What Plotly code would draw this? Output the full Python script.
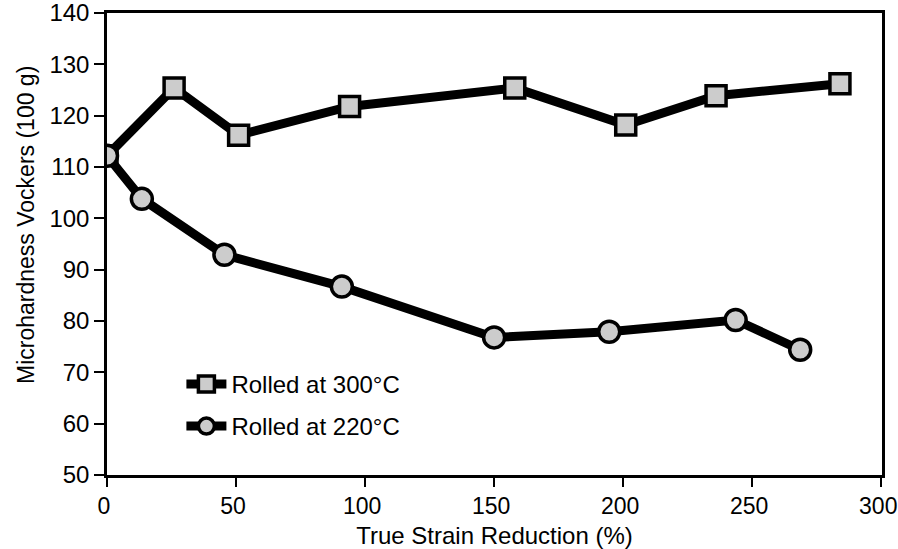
import plotly.graph_objects as go

# Rolled at 300°C (squares)
strain_300 = [0, 26, 51, 94, 158, 201, 236, 284]
hv_300 = [112.2, 125.4, 116.2, 121.8, 125.4, 118.2, 123.9, 126.2]

# Rolled at 220°C (circles)
strain_220 = [0, 13.5, 45.5, 91, 150, 194.6, 243.6, 268.6]
hv_220 = [112.2, 103.8, 92.9, 86.7, 76.8, 77.9, 80.2, 74.4]

x_ticks = [0, 50, 100, 150, 200, 250, 300]
y_ticks = [50, 60, 70, 80, 90, 100, 110, 120, 130, 140]

x_title = "True Strain Reduction (%)"
y_title = "Microhardness Vockers (100 g)"

FONT = "Liberation Sans, Arial, sans-serif"
fill = "#cccccc"

fig = go.Figure()
fig.add_trace(go.Scatter(
    x=strain_300, y=hv_300, mode="lines+markers", name="Rolled at 300°C",
    legendgroup="a",
    line=dict(color="black", width=9),
    marker=dict(symbol="square", size=20, color=fill,
                line=dict(color="black", width=3.5)),
))
fig.add_trace(go.Scatter(
    x=strain_220, y=hv_220, mode="lines+markers", name="Rolled at 220°C",
    legendgroup="b",
    line=dict(color="black", width=9),
    marker=dict(symbol="circle", size=21, color=fill,
                line=dict(color="black", width=3.5)),
))

fig.update_layout(
    width=898, height=549,
    margin=dict(l=107, r=16, t=13, b=74),
    paper_bgcolor="white", plot_bgcolor="white",
    font=dict(family=FONT, size=22, color="black"),
    showlegend=True,
    legend=dict(x=0.096, y=0.245, xanchor="left", yanchor="top",
                bgcolor="rgba(0,0,0,0)", font=dict(size=24),
                traceorder="grouped", tracegroupgap=8,
                itemwidth=40),
    xaxis=dict(range=[0, 300.3], tickvals=x_ticks, ticks="outside", ticklen=9,
               tickwidth=2, tickcolor="black", showline=True, linewidth=2.5,
               linecolor="black", mirror=True, showgrid=False, zeroline=False,
               automargin=False, ticklabeloverflow="allow", ticklabelshift=-3,
               title=dict(text=x_title, standoff=10, font=dict(size=24)),
               tickfont=dict(size=23)),
    yaxis=dict(range=[50, 140], tickvals=y_ticks, ticks="outside", ticklen=10,
               tickwidth=2, tickcolor="black", showline=True, linewidth=2.5,
               linecolor="black", mirror=True, showgrid=False, zeroline=False,
               automargin=False, ticklabeloverflow="allow",
               tickfont=dict(size=24)),
    annotations=[dict(text=y_title, textangle=-90, xref="paper", yref="paper",
                      x=(26 - 107) / 775, y=(475 - 225) / 462,
                      xanchor="center", yanchor="middle", showarrow=False,
                      font=dict(size=23))],
)

fig.write_html("out.html", config={"displayModeBar": False},
               post_script="document.body.style.margin='0';")
